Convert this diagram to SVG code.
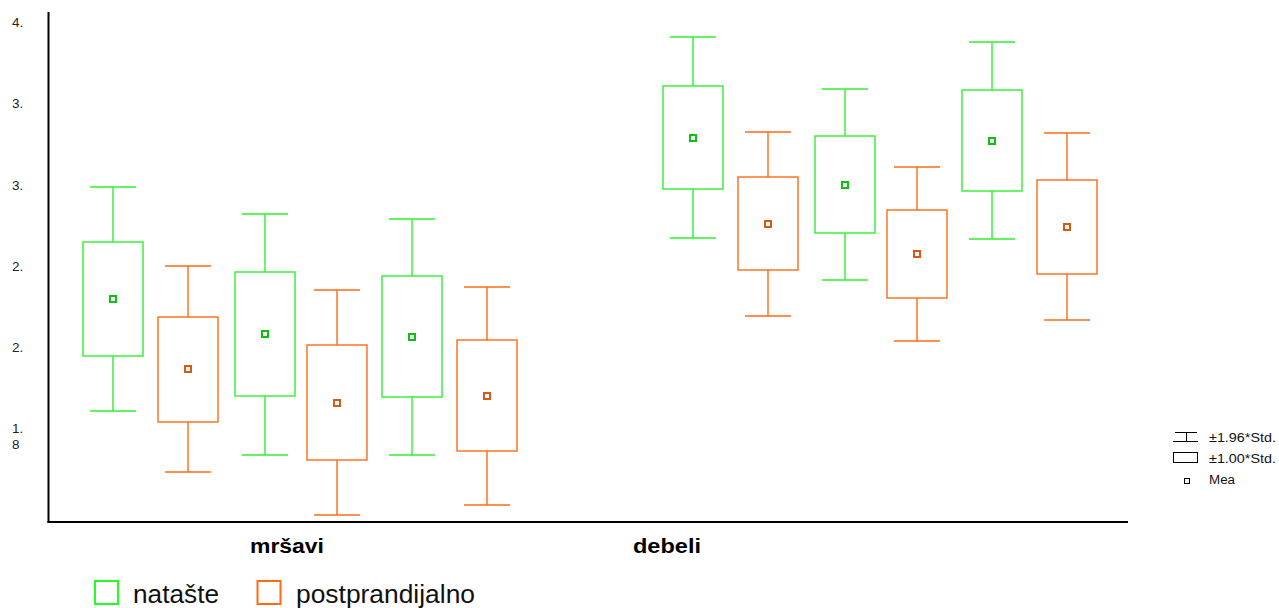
<svg xmlns="http://www.w3.org/2000/svg" width="1279" height="608" viewBox="0 0 1279 608">
<style>
.g{stroke:#2ef02e;stroke-width:1.4;fill:none}
.o{stroke:#ff6a14;stroke-width:1.4;fill:none}
.mg{stroke:#10c010;stroke-width:2;fill:#fff}
.mo{stroke:#d85a10;stroke-width:2;fill:#fff}
.ax{stroke:#000;stroke-width:2;fill:none}
.yl{font-family:"Liberation Sans",Arial,sans-serif;font-size:13.5px;fill:#222}
.cat{font-family:"Liberation Sans",Arial,sans-serif;font-size:20px;font-weight:bold;fill:#000}
.lg{font-family:"Liberation Sans",Arial,sans-serif;font-size:12px;fill:#111}
.lb{font-family:"Liberation Sans",Arial,sans-serif;font-size:26px;fill:#111}
</style>
<rect width="1279" height="608" fill="#fff"/>
<g id="axes">
<line class="ax" x1="48.5" y1="12" x2="48.5" y2="523"/>
<line class="ax" x1="47.5" y1="522" x2="1128" y2="522"/>
</g>
<g id="y-labels">
<text class="yl" x="12" y="27">4.</text>
<text class="yl" x="12" y="108">3.</text>
<text class="yl" x="12" y="190">3.</text>
<text class="yl" x="12" y="271">2.</text>
<text class="yl" x="12" y="352">2.</text>
<text class="yl" x="12" y="433">1.</text>
<text class="yl" x="12" y="449">8</text>
</g>
<g id="connectors"></g>
<g id="box1"><line class="g" x1="113" y1="187" x2="113" y2="411"/><line class="g" x1="90" y1="187" x2="136" y2="187"/><line class="g" x1="90" y1="411" x2="136" y2="411"/><rect class="g" x="83" y="242" width="60" height="114" fill="#fff" style="fill:#fff"/><rect class="mg" x="110" y="296" width="6" height="6"/></g>
<g id="box2"><line class="o" x1="188" y1="266" x2="188" y2="472"/><line class="o" x1="165" y1="266" x2="211" y2="266"/><line class="o" x1="165" y1="472" x2="211" y2="472"/><rect class="o" x="158" y="317" width="60" height="105" style="fill:#fff"/><rect class="mo" x="185" y="366" width="6" height="6"/></g>
<g id="box3"><line class="g" x1="265" y1="214" x2="265" y2="455"/><line class="g" x1="242" y1="214" x2="288" y2="214"/><line class="g" x1="242" y1="455" x2="288" y2="455"/><rect class="g" x="235" y="272" width="60" height="124" style="fill:#fff"/><rect class="mg" x="262" y="331" width="6" height="6"/></g>
<g id="box4"><line class="o" x1="337" y1="290" x2="337" y2="515"/><line class="o" x1="314" y1="290" x2="360" y2="290"/><line class="o" x1="314" y1="515" x2="360" y2="515"/><rect class="o" x="307" y="345" width="60" height="115" style="fill:#fff"/><rect class="mo" x="334" y="400" width="6" height="6"/></g>
<g id="box5"><line class="g" x1="412" y1="219" x2="412" y2="455"/><line class="g" x1="389" y1="219" x2="435" y2="219"/><line class="g" x1="389" y1="455" x2="435" y2="455"/><rect class="g" x="382" y="276" width="60" height="121" style="fill:#fff"/><rect class="mg" x="409" y="334" width="6" height="6"/></g>
<g id="box6"><line class="o" x1="487" y1="287" x2="487" y2="505"/><line class="o" x1="464" y1="287" x2="510" y2="287"/><line class="o" x1="464" y1="505" x2="510" y2="505"/><rect class="o" x="457" y="340" width="60" height="111" style="fill:#fff"/><rect class="mo" x="484" y="393" width="6" height="6"/></g>
<g id="box7"><line class="g" x1="693" y1="37" x2="693" y2="238"/><line class="g" x1="670" y1="37" x2="716" y2="37"/><line class="g" x1="670" y1="238" x2="716" y2="238"/><rect class="g" x="663" y="86" width="60" height="103" style="fill:#fff"/><rect class="mg" x="690" y="135" width="6" height="6"/></g>
<g id="box8"><line class="o" x1="768" y1="132" x2="768" y2="316"/><line class="o" x1="745" y1="132" x2="791" y2="132"/><line class="o" x1="745" y1="316" x2="791" y2="316"/><rect class="o" x="738" y="177" width="60" height="93" style="fill:#fff"/><rect class="mo" x="765" y="221" width="6" height="6"/></g>
<g id="box9"><line class="g" x1="845" y1="89" x2="845" y2="280"/><line class="g" x1="822" y1="89" x2="868" y2="89"/><line class="g" x1="822" y1="280" x2="868" y2="280"/><rect class="g" x="815" y="136" width="60" height="97" style="fill:#fff"/><rect class="mg" x="842" y="182" width="6" height="6"/></g>
<g id="box10"><line class="o" x1="917" y1="167" x2="917" y2="341"/><line class="o" x1="894" y1="167" x2="940" y2="167"/><line class="o" x1="894" y1="341" x2="940" y2="341"/><rect class="o" x="887" y="210" width="60" height="88" style="fill:#fff"/><rect class="mo" x="914" y="251" width="6" height="6"/></g>
<g id="box11"><line class="g" x1="992" y1="42" x2="992" y2="239"/><line class="g" x1="969" y1="42" x2="1015" y2="42"/><line class="g" x1="969" y1="239" x2="1015" y2="239"/><rect class="g" x="962" y="90" width="60" height="101" style="fill:#fff"/><rect class="mg" x="989" y="138" width="6" height="6"/></g>
<g id="box12"><line class="o" x1="1067" y1="133" x2="1067" y2="320"/><line class="o" x1="1044" y1="133" x2="1090" y2="133"/><line class="o" x1="1044" y1="320" x2="1090" y2="320"/><rect class="o" x="1037" y="180" width="60" height="94" style="fill:#fff"/><rect class="mo" x="1064" y="224" width="6" height="6"/></g>
<g id="categories">
<text class="cat" x="250" y="553" textLength="74" lengthAdjust="spacingAndGlyphs">mršavi</text>
<text class="cat" x="633" y="553" textLength="68" lengthAdjust="spacingAndGlyphs">debeli</text>
</g>
<g id="legend-stats">
<line x1="1175" y1="432.5" x2="1197" y2="432.5" stroke="#000" stroke-width="1"/>
<line x1="1186.5" y1="432.5" x2="1186.5" y2="441" stroke="#000" stroke-width="1"/>
<line x1="1173" y1="441.5" x2="1198" y2="441.5" stroke="#000" stroke-width="1"/>
<text class="lg" x="1209" y="442" textLength="67" lengthAdjust="spacingAndGlyphs">±1.96*Std.</text>
<rect x="1173.5" y="452.5" width="24" height="10" fill="none" stroke="#000" stroke-width="1"/>
<text class="lg" x="1209" y="463" textLength="67" lengthAdjust="spacingAndGlyphs">±1.00*Std.</text>
<rect x="1184.5" y="478.5" width="5" height="5" fill="none" stroke="#000" stroke-width="1"/>
<text class="lg" x="1209" y="484" textLength="26" lengthAdjust="spacingAndGlyphs">Mea</text>
</g>
<g id="legend-groups">
<rect x="95" y="581" width="23" height="23" fill="none" stroke="#22ff22" stroke-width="2"/>
<text class="lb" x="133" y="603" textLength="86" lengthAdjust="spacingAndGlyphs">natašte</text>
<rect x="257.5" y="581" width="23" height="23" fill="none" stroke="#ff6a14" stroke-width="2"/>
<text class="lb" x="296" y="603" textLength="179" lengthAdjust="spacingAndGlyphs">postprandijalno</text>
</g>
</svg>
